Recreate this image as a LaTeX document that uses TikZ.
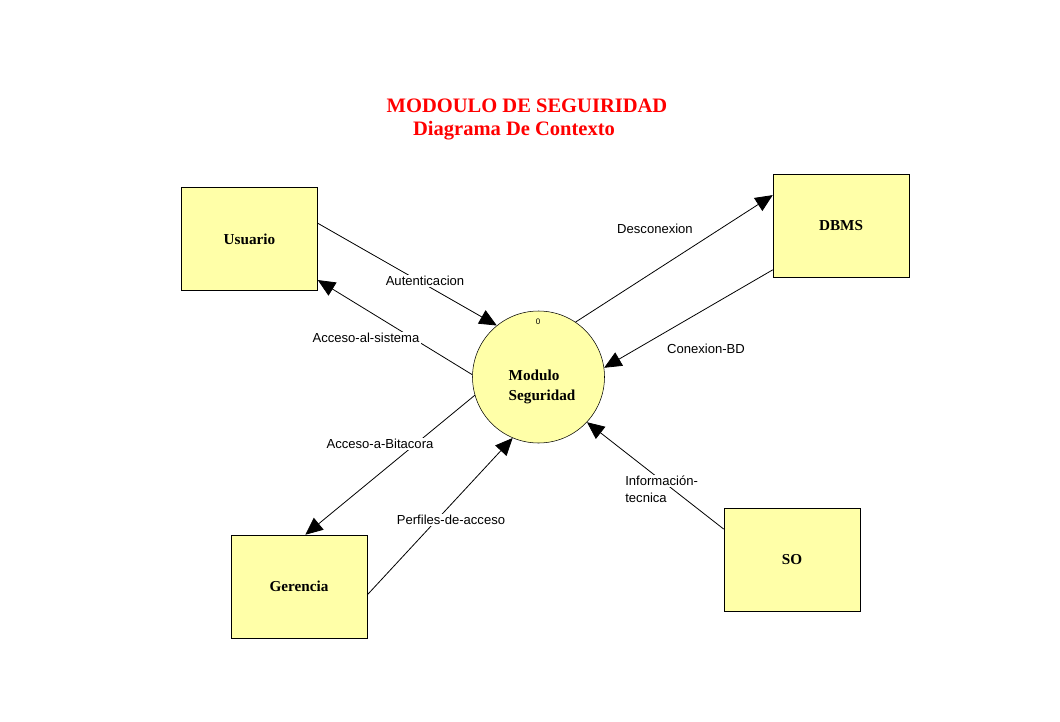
\documentclass[tikz,border=0pt]{standalone}
\usepackage{fontspec}
\setmainfont{Liberation Serif}
\newfontfamily\arialf{Liberation Sans}
\usetikzlibrary{arrows.meta}
\definecolor{boxfill}{HTML}{FFFFA8}
\definecolor{titlered}{HTML}{FF0000}
\begin{document}
\begin{tikzpicture}[x=0.75pt,y=-0.75pt,
  entity/.style={draw=black,fill=boxfill,minimum width=102pt,minimum height=77.25pt,inner sep=0pt,font=\fontsize{11.4}{13}\selectfont\bfseries},
  proc/.style={draw=black,fill=boxfill,circle,minimum size=99pt,inner sep=0pt},
  flow/.style={draw=black,line width=0.6pt,-{Triangle[length=13pt,width=11.5pt]}},
  flowlabel/.style={fill=white,inner sep=1pt,font=\arialf\fontsize{9.8}{11.5}\selectfont,text=black}]
\useasboundingbox (0,0) rectangle (1060,721);
% title
\node[text=titlered,font=\fontsize{15.4}{18}\selectfont\bfseries] (t1) at (527,106) {MODOULO DE SEGUIRIDAD};
\node[text=titlered,font=\fontsize{15.4}{18}\selectfont\bfseries] (t2) at (514,131) {Diagrama De Contexto};
% entities
\node[entity] (u) at (249.5,239) {Usuario};
\node[entity] (d) at (841,225.5) {DBMS};
\node[entity] (g) at (299,586.5) {Gerencia};
\node[entity] (s) at (792,559.5) {SO};
% process
\node[proc] (m) at (538.5,377) {};
\node[font=\fontsize{11.4}{15}\selectfont\bfseries,align=left,anchor=west] (mt) at (504,387) {Modulo\\Seguridad};
\node[font=\arialf\fontsize{6}{7}\selectfont] (mn) at (538,322) {0};
% flows
\draw[flow] (u.13) -- (m.129);
\draw[flow] (m.178) -- (u.-31);
\draw[flow] (m.56) -- (d.156.5);
\draw[flow] (d.213) -- (m.8);
\draw[flow] (m.196) -- (g.83);
\draw[flow] (g.-7) -- (m.247);
\draw[flow] (s.156.5) -- (m.317);
% labels
\node[flowlabel] (l1) at (425,281) {Autenticacion};
\node[flowlabel] (l2) at (366,338) {Acceso-al-sistema};
\node[flowlabel] (l3) at (655,229) {Desconexion};
\node[flowlabel] (l4) at (706,349) {Conexion-BD};
\node[flowlabel] (l5) at (380,444) {Acceso-a-Bitacora};
\node[flowlabel] (l6) at (451,520) {Perfiles-de-acceso};
\node[inner sep=0pt,align=left,anchor=west,font=\arialf\fontsize{9.8}{12.6}\selectfont,text=black] (l7) at (624,489) {\setlength{\fboxsep}{0.8pt}\colorbox{white}{Información-}\\\setlength{\fboxsep}{0.8pt}\colorbox{white}{tecnica}};
\end{tikzpicture}
\end{document}
